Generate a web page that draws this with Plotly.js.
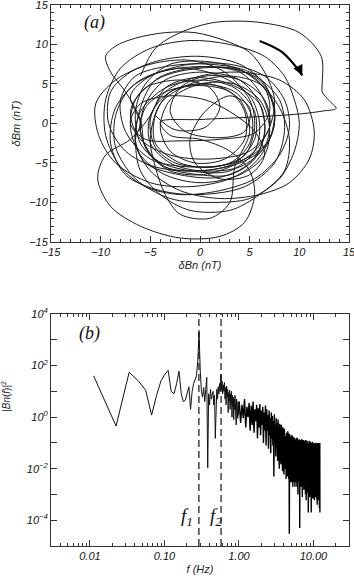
<!DOCTYPE html>
<html>
<head>
<meta charset="utf-8">
<script src="https://cdn.plot.ly/plotly-3.0.1.min.js"></script>
<style>
  html, body { margin: 0; padding: 0; background: #fff; }
  #chart { width: 354px; height: 576px; }
</style>
</head>
<body>
<div id="chart"></div>
<script>
// Panel (a): hodogram of the perturbation field, dBn vs dBm (nT)
const bn = [
  -6, -4.5, -2, 1.5, 6, 10, 12.2, 12.3, 12.3, 13, 13.7, 12.5, 10, 5, 0, -4,
  -3, 0, 3, 5, 5.5, 4.5, 2, -2, -6, -9, -10.3, -9.5, -7, -5,
  -3.5, -0.5, 3, 6, 6.5, 5.5, 3, 0, -3.5, -6, -6.5, -5.5,
  -3, 1, 4.5, 7, 7.5, 6.5, 4, 0, -4.5, -7.5, -9.2, -9, -7,
  -4, 0, 4, 6.5, 7.5, 7, 5.5, 3, -1, -5, -8.5, -10.2,
  -10.5, -8.5, -5, -1, 2.5, 5, 5.5, 4.5, 1.5, -2, -4.5,
  -4.5, -3, 0, 3.5, 5.2, 5, 3, -1, -5, -7.5, -8,
  -6.5, -3, 1, 5, 8, 8.5, 7.5, 4.5, 0, -4, -7.5, -9,
  -8.5, -6, -2, 2, 5, 6, 5.5, 3, -1, -4.5, -6,
  -5.5, -3.5, 0, 4, 6, 6.5, 5, 2, -2, -5.5, -6.5,
  -6, -7, -5, -1, 3, 6.5, 8.5, 9, 8, 5.5, 2, -2, -5.5, -8, -9.5,
  -9.5, -8, -5, -1, 3, 6.5, 8.5, 9.5, 10, 9.5, 8, 5, 1, -3, -6.5, -8.5,
  -8.5, -7, -4, 0, 4, 6, 7, 6.5, 4, 0, -3, -5,
  -5, -3, 1, 4, 5, 3.5, 3, 1, -2, -3.5, -4.5, -5,
  -4, -1, 3, 6, 8, 9, 8.5, 6, 3, -1, -4, -6, -6.5,
  -6, -4.5, -1, 3, 6, 7.5, 7, 4.5, 1, -2.5, -4.5, -5,
  -3.5, 0, 4, 8, 10.5, 11.5, 11, 9, 6, 2, -2, -5, -6.5,
  -6, -3.5, 0, 3.5, 5.5, 5.5, 3.5, 0, -3.5, -5.5, -6,
  -7.5, -9, -9.5, -8.5, -6.5, -3.5, -0.5, 2.5, 5, 6.5, 7.5, 7, 5.5, 3, 0, -3, -5, -6,
  -5.5, -3.5, 0, 3, 4.5, 4.5, 2.5, -0.5, -3, -4,
  -3, 0, 3.5, 6, 7, 6.5, 4, 0, -3.5, -6, -7, -6.5, -4, 0, 4,
  6.5, 7, 5.5, 2, -2, -5.5, -7, -6, -3, 0.5, 3, 5.5, 6.5, 5, 2, -0.5, -1,
  0.5, 3, 5, 4.5, 2, -1.5, -3, -2, 0.5, 4,
  6.5, 7, 5, 1, -3, -6, -7, -5.5, -2, 1, 2, 0.5, -2.5, -4.5
];
const bm = [
  6, 9.5, 11.5, 12.8, 12.8, 11.5, 8.5, 5, 4, 2.9, 1.9, 1.6, 1.2, 0.8, 0.5, 0.2,
  -1.5, -2, -3.5, -6, -9, -12.5, -14.3, -14.5, -13, -10.5, -7, -4, -2, 1,
  4.5, 5.8, 5, 2.5, -1, -4.5, -6.5, -6.5, -5.5, -2.5, 1.5, 5,
  7.5, 7.8, 6.5, 3.5, 0, -3, -5, -6, -5.5, -3.5, 0, 4, 6.5,
  8, 8.5, 7.5, 5, 1.5, -2, -5, -7, -8, -7.5, -5, -1.5,
  2.5, 5.5, 7.5, 8, 6.5, 3, -0.5, -4, -5.5, -5, -2.5,
  1, 4, 5, 4, 1, -2.5, -5, -5.5, -4.5, -1, 3,
  6, 7.3, 7.5, 6.5, 3, -1, -5, -8, -9, -8.5, -6.5, -2.5,
  2, 5.5, 7, 6, 3.5, 0, -3.5, -6, -6, -4.5, -1,
  2.5, 5.5, 6.5, 5.5, 2.5, -1.5, -5, -6.8, -6.5, -5, -2,
  0, 3.5, 6, 7.5, 7.5, 6, 3, -0.5, -4, -7, -8.5, -9, -8, -5.5, -1.5,
  3, 7, 9.5, 10.5, 10, 8.5, 6, 3, 0, -3.5, -7, -9.5, -10, -9.5, -7, -3,
  1, 4.5, 6.5, 7.2, 6.5, 4, 0.5, -3, -5.5, -6, -5, -2.5,
  1, 4, 5, 3, -1, -5.5, -10, -12, -11.5, -9, -5.5, -2,
  2.5, 5, 6, 5, 2, -2, -6, -9, -11, -11, -9, -6, -2,
  2, 5.5, 7, 7, 5.5, 2, -2, -4.5, -5.5, -5, -3, 0.5,
  4, 6, 6.5, 5.5, 3, -1, -4.5, -7.5, -9, -9.5, -8.5, -6, -2.5,
  1.5, 4.5, 5.5, 4.5, 1.5, -2, -5, -6, -5.5, -3, 0.5,
  4, 6.5, 8.5, 9.8, 10.8, 11.5, 11.5, 10.5, 9, 6.5, 3, -0.5, -3.5, -5.5, -6.5, -6, -4, -1,
  2, 4, 4.8, 4, 1.5, -2, -4.5, -5, -3.5, -0.5,
  3, 5, 5, 3, -0.5, -4, -6.5, -7.5, -6.5, -4, -0.5, 3, 5.8, 7, 6.8,
  4.5, 1.5, -1.2, -2, -2.2, -2, 0, 2.5, 3.5, 3, 1.5, -1, -4, -6.5, -7, -5, -2,
  1.5, 3.5, 2, -1, -1.8, -1, 1.5, 4.5, 6, 5.5,
  3, -0.5, -3.5, -4.5, -4, -2, 1.5, 4.5, 5.5, 4.5, 2, -0.5, -0.8, 1
];

// Rotation-sense arrow drawn over the hodogram
const arrowBn = [6.0, 8.3, 10.3];
const arrowBm = [10.45, 9.0, 6.1];

// Panel (b): power spectrum |Bn(f)|^2
// low-frequency part, sampled every 0.0112 Hz from 0.0112 Hz
const specLowStart = 0.0112;
const specLowStep = 0.0112;
const specLow = [
  40, 0.45, 55, 25, 11, 1.2, 7, 25, 45, 65,
  10, 8, 20, 60, 8, 4, 4.5, 8, 15, 2,
  10, 20, 30, 40, 150, 2000, 60, 10, 6, 14,
  4, 9, 35, 0.011, 8, 3, 12, 5, 9, 10,
  3, 7, 0.15, 6, 12, 5, 15, 8, 20, 10,
  45, 12, 25, 8, 18, 10, 22, 5, 14, 3,
  16, 6, 12, 1.5, 9, 4, 11, 2, 8, 3,
  10, 1, 7, 2.5, 6, 0.8, 5, 2, 7, 1.2,
  4, 0.5, 5, 1.5, 3.5, 0.9, 4, 1.2, 3
];
// high-frequency part, sampled every 0.045 Hz from 1.008 Hz
const specHighStart = 1.008;
const specHighStep = 0.045;
const specHigh = [
  4, 0.6, 3, 0.9, 5, 0.4, 2.5, 1, 3.5, 0.3,
  2.8, 0.5, 4, 0.25, 2, 0.7, 3, 0.15, 2.2, 0.4,
  3.2, 0.2, 1.8, 0.5, 2.5, 0.1, 1.5, 0.3, 2.8, 0.08,
  2, 0.3, 1.2, 0.06, 1.8, 0.2, 0.9, 0.04, 1.5, 0.15,
  1.1, 0.08, 0.7, 0.005, 1.3, 0.1, 0.5, 0.03, 0.9, 0.06,
  0.6, 0.02, 0.8, 0.07, 0.4, 0.01, 0.55, 0.04, 0.3, 0.015,
  0.5, 0.03, 0.25, 0.008, 0.4, 0.05, 0.2, 0.006, 0.35, 0.02,
  0.3, 0.01, 0.18, 0.004, 0.25, 0.02, 0.15, 0.005, 0.28, 0.012,
  0.2, 0.004, 0.12, 3e-5, 0.22, 0.008, 0.1, 0.003, 0.18, 0.01,
  0.15, 0.003, 0.2, 0.006, 0.09, 0.002, 0.17, 0.008, 0.12, 0.003,
  0.16, 0.005, 0.1, 0.002, 0.14, 0.007, 0.08, 0.003, 0.15, 0.004,
  0.12, 0.002, 0.16, 0.006, 0.07, 0.001, 0.13, 0.004, 0.1, 0.003,
  0.14, 0.005, 0.09, 5e-5, 0.12, 0.003, 0.08, 0.002, 0.13, 0.006,
  0.1, 0.002, 0.14, 0.004, 0.07, 0.0008, 0.12, 0.003, 0.09, 0.002,
  0.13, 0.004, 0.08, 0.0015, 0.11, 0.005, 0.07, 0.002, 0.12, 0.003,
  0.09, 0.001, 0.13, 0.004, 0.06, 0.0006, 0.11, 0.003, 0.08, 0.002,
  0.12, 0.003, 0.07, 0.0012, 0.1, 0.004, 0.06, 0.0002, 0.11, 0.002,
  0.08, 0.001, 0.12, 0.003, 0.06, 0.0008, 0.1, 0.002, 0.07, 0.0015,
  0.11, 0.003, 0.07, 0.001, 0.09, 0.0002, 0.06, 0.002, 0.1, 0.001,
  0.08, 0.0015, 0.11, 0.003, 0.05, 0.0007, 0.09, 0.002, 0.07, 0.001,
  0.1, 0.002, 0.06, 0.0009, 0.09, 0.003, 0.05, 0.0006, 0.1, 0.0015,
  0.07, 0.001, 0.1, 0.0025, 0.05, 0.0008, 0.09, 0.0015, 0.06, 0.001,
  0.09, 0.002, 0.05, 0.0007, 0.1, 0.0015, 0.06, 0.0004, 0.08, 0.001,
  0.06, 0.0012, 0.09, 0.002, 0.05, 0.0006, 0.1, 0.0015, 0.07, 0.0009,
  0.08, 0.0015, 0.05, 0.0007, 0.09, 0.0003, 0.06, 0.001, 0.1, 0.0002
];
// marked frequencies f1 and f2 (Hz)
const markFreqs = [0.29, 0.575];
const markLabels = ['<i>f</i><sub>1</sub>', '<i>f</i><sub>2</sub>'];

// Tick labels
const fTickVals = [0.01, 0.1, 1, 10];
const fTickText = ['0.01', '0.10', '1.00', '10.00'];
const pTickVals = [1e-4, 1e-2, 1, 1e2, 1e4];
const pTickText = ['10<sup>−4</sup>', '10<sup>−2</sup>', '10<sup>0</sup>', '10<sup>2</sup>', '10<sup>4</sup>'];

const ink = '#000';
const axisInk = '#333';
const sansFamily = 'Liberation Sans, Arial, sans-serif';
const tickFont = { family: sansFamily, size: 11, style: 'italic', color: '#111' };
const serifFont = { family: 'Liberation Serif, DejaVu Serif, serif', style: 'italic', color: '#111' };

const commonAxis = {
  showline: true, linecolor: axisInk, linewidth: 1,
  mirror: 'ticks', ticks: 'inside', tickcolor: axisInk, ticklen: 6, tickwidth: 1,
  showgrid: false, zeroline: false, tickfont: tickFont, ticklabeloverflow: 'allow'
};

const traces = [
  {
    x: bn, y: bm, xaxis: 'x', yaxis: 'y', type: 'scatter', mode: 'lines',
    line: { color: '#1a1a1a', width: 1.0, shape: 'spline', smoothing: 0.9 },
    hoverinfo: 'skip'
  },
  {
    x: arrowBn, y: arrowBm, xaxis: 'x', yaxis: 'y', type: 'scatter', mode: 'lines',
    line: { color: ink, width: 2.2, shape: 'spline' }, hoverinfo: 'skip'
  },
  {
    x0: specLowStart, dx: specLowStep, y: specLow, xaxis: 'x2', yaxis: 'y2',
    type: 'scatter', mode: 'lines', line: { color: '#111', width: 1 }, hoverinfo: 'skip'
  },
  {
    x0: specHighStart, dx: specHighStep, y: specHigh, xaxis: 'x2', yaxis: 'y2',
    type: 'scatter', mode: 'lines', line: { color: ink, width: 1.4 }, hoverinfo: 'skip'
  }
];

const shapes = markFreqs.map(f => ({
  type: 'line', xref: 'x2', yref: 'y2 domain',
  x0: f, x1: f, y0: 0, y1: 1,
  line: { color: '#111', width: 1.2, dash: '7px,4px' }
}));

const annotations = [
  { xref: 'x domain', yref: 'y domain', x: 0.145, y: 0.925, xanchor: 'center', yanchor: 'middle',
    text: '(a)', showarrow: false, font: Object.assign({ size: 18 }, serifFont) },
  { xref: 'x2 domain', yref: 'y2 domain', x: 0.13, y: 0.915, xanchor: 'center', yanchor: 'middle',
    text: '(b)', showarrow: false, font: Object.assign({ size: 18 }, serifFont) },
  // arrowhead at the end of the rotation arrow
  { xref: 'x', yref: 'y', axref: 'x', ayref: 'y',
    x: arrowBn[2], y: arrowBm[2], ax: arrowBn[2] - 0.35, ay: arrowBm[2] + 0.9,
    text: '', showarrow: true, arrowhead: 2, arrowsize: 1, arrowwidth: 2, arrowcolor: ink },
  { xref: 'x2 domain', yref: 'y2 domain', x: 0.458, y: 0.125, xanchor: 'center', yanchor: 'middle',
    text: markLabels[0], showarrow: false, font: Object.assign({ size: 19 }, serifFont) },
  { xref: 'x2 domain', yref: 'y2 domain', x: 0.553, y: 0.125, xanchor: 'center', yanchor: 'middle',
    text: markLabels[1], showarrow: false, font: Object.assign({ size: 19 }, serifFont) },
  // y title of the spectrum
  { xref: 'paper', yref: 'paper', x: -0.152, y: 0.277, xanchor: 'center', yanchor: 'middle',
    text: '|<i>Bn</i>(<i>f</i>)|<sup>2</sup>', textangle: -90, showarrow: false,
    font: { family: sansFamily, size: 10, color: '#222' } }
];

const titleFont = { family: sansFamily, size: 11, style: 'italic', color: '#222' };

const layout = {
  width: 354, height: 576,
  margin: { l: 51, r: 5, t: 5, b: 30 },
  paper_bgcolor: '#fff', plot_bgcolor: '#fff',
  showlegend: false,
  xaxis: Object.assign({}, commonAxis, {
    domain: [0, 1], anchor: 'y', range: [-15, 15], tick0: 0, dtick: 5,
    minor: { dtick: 1, ticks: 'inside', ticklen: 3, tickcolor: axisInk },
    title: { text: 'δ<i>Bn</i> (<i>nT</i>)', standoff: 4, font: titleFont }
  }),
  yaxis: Object.assign({}, commonAxis, {
    domain: [0.562, 1], anchor: 'x', range: [-15, 15], tick0: 0, dtick: 5,
    minor: { dtick: 1, ticks: 'inside', ticklen: 3, tickcolor: axisInk },
    title: { text: 'δ<i>Bm</i> (<i>nT</i>)', standoff: 6, font: titleFont }
  }),
  xaxis2: Object.assign({}, commonAxis, {
    domain: [0, 1], anchor: 'y2', type: 'log', range: [Math.log10(0.003), Math.log10(30)],
    tickmode: 'array', tickvals: fTickVals, ticktext: fTickText,
    minor: { dtick: 'D1', ticks: 'inside', ticklen: 3, tickcolor: axisInk },
    title: { text: '<i>f (Hz)</i>', standoff: 4, font: titleFont }
  }),
  yaxis2: Object.assign({}, commonAxis, {
    domain: [0, 0.4288], anchor: 'x2', type: 'log', range: [-5, 4],
    tickmode: 'array', tickvals: pTickVals, ticktext: pTickText,
    minor: { dtick: 1, ticks: 'inside', ticklen: 6, tickcolor: axisInk }
  }),
  shapes: shapes,
  annotations: annotations
};

Plotly.newPlot('chart', traces, layout, { staticPlot: true, displayModeBar: false });
</script>
</body>
</html>
